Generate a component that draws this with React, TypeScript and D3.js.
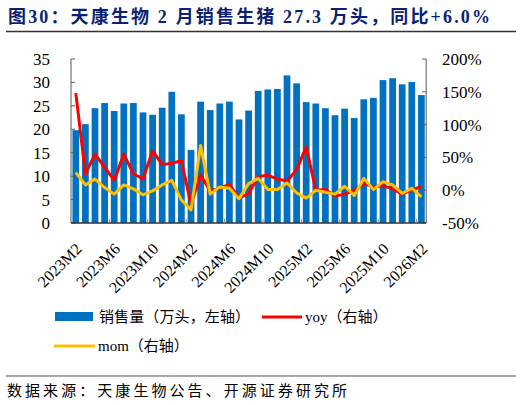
import { useMemo } from 'react'
import * as d3 from 'd3'

// months 2023M2 .. 2026M2
const months: string[] = (() => {
  const out: string[] = []
  for (let y = 2023, m = 2; y < 2026 || (y === 2026 && m <= 2); ) {
    out.push(`${y}M${m}`)
    m++
    if (m > 12) { m = 1; y++ }
  }
  return out
})()

// sales volume, 10k heads (left axis)
const sales = [
  19.8, 21.1, 24.5, 25.6, 23.9, 25.5, 25.6, 23.6, 23.1, 24.6, 28.0, 23.2, 15.6,
  25.9, 24.1, 25.5, 25.9, 22.1, 24.0, 28.2, 28.5, 28.6, 31.5, 29.8, 25.8,
  25.5, 24.5, 23.0, 24.4, 22.4, 26.4, 26.7, 30.5, 30.9, 29.6, 30.1, 27.3,
]

// yoy %, right axis
const yoy = [
  148, 25, 55, 35, 15, 55, 25, 17, 60, 39, 41, 45, -22,
  23, -1, 3, 9, -12, -5, 21, 23, 17, 14, 31, 66,
  0, 1, -9, -6, 0, 10, 5, 7, 2, -6, 0, 6,
]

// mom %, right axis
const mom = [
  27, 8, 17, 4, -6, 8, 2, -7, -1, 8, 15, -15, -30,
  68, -6, 5, 3, -13, 10, 18, 1, 1, 11, -4, -12,
  0, -3, -6, 6, -8, 18, 1, 13, 8, -5, 3, -10,
]

const leftTicks = [0, 5, 10, 15, 20, 25, 30, 35]
const rightTicks = [-50, 0, 50, 100, 150, 200]
const labelEvery = 4

const W = 522
const H = 405
const plot = { left: 71, right: 426.2, top: 59, bottom: 223 }

const serif = "'Liberation Serif', 'Times New Roman', 'Noto Sans CJK SC', serif"
const cjk = "'Liberation Serif', 'Noto Sans CJK SC', serif"

export default function App() {
  const x = useMemo(
    () => d3.scaleBand<string>().domain(months).range([plot.left, plot.right]).paddingInner(0.3).paddingOuter(0.15),
    []
  )
  const yL = useMemo(() => d3.scaleLinear().domain([0, 35]).range([plot.bottom, plot.top]), [])
  const yR = useMemo(() => d3.scaleLinear().domain([-50, 200]).range([plot.bottom, plot.top]), [])
  const step = x.step()
  const cx = (i: number) => (x(months[i]) ?? 0) + x.bandwidth() / 2

  const line = d3.line<number>().x((_, i) => cx(i)).y(d => yR(d))

  return (
    <svg width={W} height={H} style={{ position: 'absolute', left: 0, top: 0, background: '#fff' }}>
      {/* title */}
      <text x={8} y={23} fontFamily={cjk} fontWeight="bold" fontSize={18} fill="#0b1f73" textLength={482} lengthAdjust="spacing">
        图30：天康生物 2 月销售生猪 27.3 万头，同比+6.0%
      </text>
      <line x1={6} x2={516} y1={31.5} y2={31.5} stroke="#333" strokeWidth={1.5} />

      {/* bars */}
      {sales.map((v, i) => (
        <rect key={i} x={x(months[i])} y={yL(v)} width={x.bandwidth()} height={yL(0) - yL(v)} fill="#0070C0" />
      ))}

      {/* lines */}
      <path d={line(yoy) ?? ''} fill="none" stroke="#FF0000" strokeWidth={3} strokeLinejoin="round" />
      <path d={line(mom) ?? ''} fill="none" stroke="#FFC000" strokeWidth={3} strokeLinejoin="round" />

      {/* left axis */}
      <line x1={plot.left} x2={plot.left} y1={plot.top} y2={plot.bottom} stroke="#595959" strokeWidth={1} />
      {leftTicks.map(t => (
        <g key={t}>
          <line x1={plot.left} x2={plot.left + 4} y1={yL(t)} y2={yL(t)} stroke="#595959" />
          <text x={50} y={yL(t) + 6} textAnchor="end" fontFamily={serif} fontSize={17} fill="#000">{t}</text>
        </g>
      ))}

      {/* right axis */}
      <line x1={plot.right} x2={plot.right} y1={plot.top} y2={plot.bottom} stroke="#595959" strokeWidth={1} />
      {rightTicks.map(t => (
        <g key={t}>
          <line x1={plot.right - 4} x2={plot.right} y1={yR(t)} y2={yR(t)} stroke="#595959" />
          <text x={442} y={yR(t) + 6} textAnchor="start" fontFamily={serif} fontSize={17} fill="#000">{t}%</text>
        </g>
      ))}

      {/* bottom axis */}
      <line x1={plot.left} x2={plot.right} y1={plot.bottom} y2={plot.bottom} stroke="#333" strokeWidth={1.5} />
      {months.map((m, i) =>
        i % labelEvery === 0 && i > 0 ? (
          <line key={m} x1={plot.left + i * step} x2={plot.left + i * step} y1={plot.bottom} y2={plot.bottom - 4} stroke="#7f7f7f" />
        ) : null
      )}
      {months.map((m, i) =>
        i % labelEvery === 0 ? (
          <text key={m} transform={`translate(${cx(i) - 1},${plot.bottom + 19}) rotate(-45)`} textAnchor="end"
            fontFamily={serif} fontSize={16} fill="#000" dy="0.7em">{m}</text>
        ) : null
      )}

      {/* legend */}
      <rect x={55} y={312} width={38} height={9} fill="#0070C0" />
      <text x={99} y={322} fontFamily={cjk} fontSize={15} fill="#000" textLength={151} lengthAdjust="spacing">销售量（万头，左轴）</text>
      <line x1={262} x2={302} y1={317} y2={317} stroke="#FF0000" strokeWidth={3} />
      <text x={305} y={322} fontFamily={cjk} fontSize={15} fill="#000">yoy（右轴）</text>
      <line x1={54} x2={95} y1={346} y2={346} stroke="#FFC000" strokeWidth={3} />
      <text x={98} y={351} fontFamily={cjk} fontSize={15} fill="#000">mom（右轴）</text>

      {/* source */}
      <line x1={6} x2={516} y1={376} y2={376} stroke="#555" strokeWidth={1.2} />
      <text x={7} y={396} fontFamily={cjk} fontSize={15} fill="#000" textLength={340} lengthAdjust="spacing">数据来源：天康生物公告、开源证券研究所</text>
    </svg>
  )
}
